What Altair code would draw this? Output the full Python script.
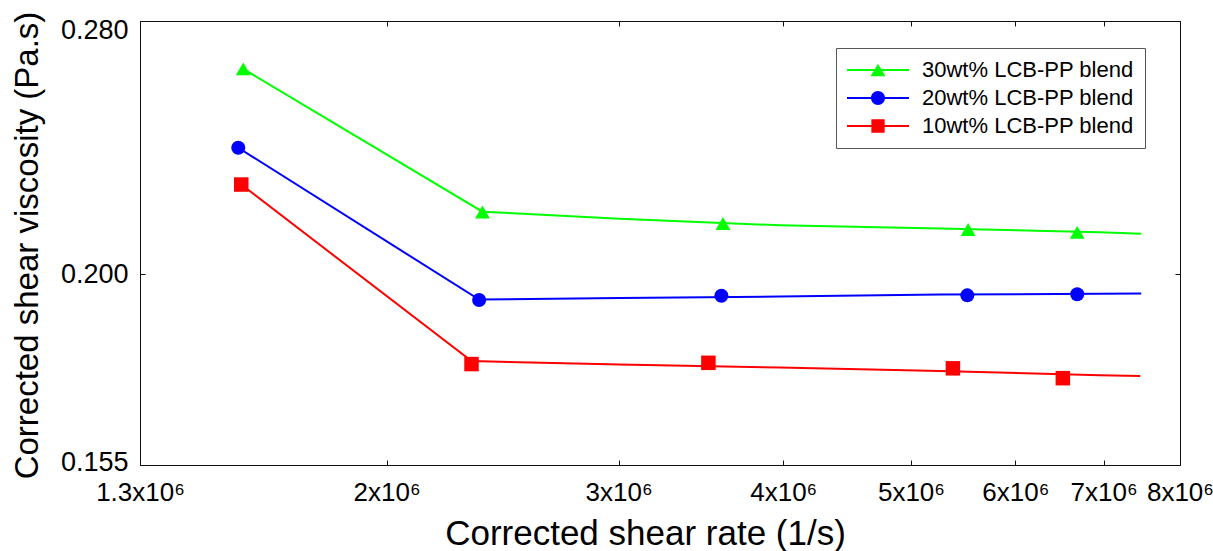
import altair as alt
import pandas as pd

FONT = "Liberation Sans"

series_names = ["30wt% LCB-PP blend", "20wt% LCB-PP blend", "10wt% LCB-PP blend"]
series_colors = ["#00ff00", "#0000ff", "#ff0000"]
marker_shapes = ["triangle-up", "circle", "square"]
marker_sizes = [220, 196, 210]

# measured points (markers)
marker_rate_30 = [1.557e6, 2.365e6, 3.600e6, 5.525e6, 6.685e6]
marker_visc_30 = [0.2627, 0.2171, 0.2138, 0.2121, 0.2113]
marker_rate_20 = [1.5435e6, 2.351e6, 3.590e6, 5.517e6, 6.685e6]
marker_visc_20 = [0.2365, 0.1931, 0.1942, 0.1943, 0.1946]
marker_rate_10 = [1.5516e6, 2.320e6, 3.5095e6, 5.380e6, 6.519e6]
marker_visc_10 = [0.2252, 0.1773, 0.1776, 0.1763, 0.1740]

# fitted curves (lines)
line_rate_30 = [1.557e6, 2.365e6, 3.006e6, 3.975e6, 5.257e6, 6.951e6, 7.476e6]
line_visc_30 = [0.2627, 0.2172, 0.2152, 0.2133, 0.2124, 0.2113, 0.2109]
line_rate_20 = [1.5435e6, 2.351e6, 3.006e6, 3.975e6, 5.257e6, 6.951e6, 7.476e6]
line_visc_20 = [0.2365, 0.1932, 0.1936, 0.1940, 0.1945, 0.1947, 0.1948]
line_rate_10 = [1.5516e6, 2.320e6, 3.006e6, 3.975e6, 5.257e6, 6.951e6, 7.463e6]
line_visc_10 = [0.2252, 0.1780, 0.1772, 0.1765, 0.1757, 0.1747, 0.1745]

x_tick_values = [1.3e6, 2e6, 3e6, 4e6, 5e6, 6e6, 7e6, 8e6]
y_tick_values = [0.155, 0.200, 0.280]
x_domain = [1.3e6, 8e6]
y_domain = [0.155, 0.280]

# legend symbols: line + marker (custom paths)
LINE_PATH = "M-4.43,-0.14L4.43,-0.14L4.43,0.14L-4.43,0.14Z"
legend_paths = [
    LINE_PATH + "M0,-0.89L1.07,0.89L-1.07,0.89Z",
    LINE_PATH + "M-1,0A1,1,0,1,1,1,0A1,1,0,1,1,-1,0Z",
    LINE_PATH + "M-0.95,-0.95L0.95,-0.95L0.95,0.95L-0.95,0.95Z",
]


def rows(name, xs, ys):
    return [{"series": name, "rate": x, "visc": y, "order": i}
            for i, (x, y) in enumerate(zip(xs, ys))]


markers_df = pd.DataFrame(
    rows(series_names[0], marker_rate_30, marker_visc_30)
    + rows(series_names[1], marker_rate_20, marker_visc_20)
    + rows(series_names[2], marker_rate_10, marker_visc_10)
)
lines_df = pd.DataFrame(
    rows(series_names[0], line_rate_30, line_visc_30)
    + rows(series_names[1], line_rate_20, line_visc_20)
    + rows(series_names[2], line_rate_10, line_visc_10)
)

xscale = alt.Scale(type="log", domain=x_domain, nice=False)
yscale = alt.Scale(type="log", domain=y_domain, nice=False)
cscale = alt.Scale(domain=series_names, range=series_colors)

x_main_axis = alt.Axis(
    values=x_tick_values,
    labelExpr="datum.value < 1.5e6 ? '1.3x10\u2076' : format(datum.value/1e6, 'd') + 'x10\u2076'",
    labelFlush=False,
    labelOverlap=False,
    labelFontSize=26,
    labelPadding=14,
    title="Corrected shear rate (1/s)",
    titleFontSize=35,
    titleX=505,
    titleY=84,
    titleBaseline="alphabetic",
    titleAnchor="start",
    titleAlign="center",
)
y_main_axis = alt.Axis(
    values=y_tick_values,
    format=".3f",
    labelFontSize=27,
    labelPadding=12,
    labelOverlap=False,
    labelOffset={"condition": [{"test": "datum.value > 0.27", "value": 9},
                               {"test": "datum.value < 0.16", "value": -3}],
                 "value": 1},
    title="Corrected shear viscosity (Pa.s)",
    titleFontSize=33,
    titleAngle=-90,
    titleX=-108,
    titleY=224,
    titleBaseline="alphabetic",
    titleAlign="center",
)

lines = alt.Chart(lines_df).mark_line(strokeWidth=2, opacity=1).encode(
    x=alt.X("rate:Q", scale=xscale, axis=x_main_axis),
    y=alt.Y("visc:Q", scale=yscale, axis=y_main_axis),
    color=alt.Color("series:N", scale=cscale, legend=None),
    order="order:Q",
)

point_layers = []
for name, col, shp, sz in zip(series_names, series_colors, marker_shapes, marker_sizes):
    point_layers.append(
        alt.Chart(markers_df).transform_filter(alt.datum.series == name)
        .mark_point(filled=True, shape=shp, size=sz, color=col, opacity=1, strokeWidth=0)
        .encode(
            x=alt.X("rate:Q", scale=xscale, axis=None),
            y=alt.Y("visc:Q", scale=yscale, axis=None),
        )
    )

legend_layer = alt.Chart(markers_df).transform_filter("false").mark_point(
    filled=True, opacity=1
).encode(
    x=alt.X("rate:Q", scale=xscale, axis=None),
    y=alt.Y("visc:Q", scale=yscale, axis=None),
    color=alt.Color("series:N", scale=cscale, legend=alt.Legend(
        title=None, orient="none", legendX=696, legendY=27, direction="vertical",
        symbolSize=196, symbolStrokeWidth=0, symbolOffset=20, labelOffset=33,
        labelFont=FONT, labelFontSize=22, labelColor="black", labelLimit=400,
        rowPadding=6, padding=11, strokeColor="#555555", fillColor="white",
    )),
    shape=alt.Shape("series:N", scale=alt.Scale(domain=series_names, range=legend_paths)),
)

mirror_layer = alt.Chart(markers_df).transform_filter("false").mark_point().encode(
    x=alt.X("rate:Q", scale=xscale, axis=alt.Axis(
        orient="top", values=x_tick_values, labels=False, title=None)),
    y=alt.Y("visc:Q", scale=yscale, axis=alt.Axis(
        orient="right", values=y_tick_values, labels=False, title=None)),
)

chart = alt.layer(lines, *point_layers, legend_layer, mirror_layer).resolve_scale(
    color="independent", shape="independent"
).resolve_axis(
    x="independent", y="independent"
).properties(
    width=1040,
    height=444,
    autosize=alt.AutoSizeParams(type="none"),
    padding={"left": 140, "top": 21, "right": 33, "bottom": 86},
    background="white",
).configure_view(
    stroke="#111111", strokeWidth=1
).configure_axis(
    grid=False,
    domain=False,
    offset=-5,
    tickSize=5,
    tickColor="#111111",
    tickWidth=1,
    labelFont=FONT,
    labelFontSize=25,
    labelColor="black",
    titleFont=FONT,
    titleFontSize=33,
    titleFontWeight="normal",
    titleColor="black",
)

chart.save("out.html", embed_options={"renderer": "svg", "actions": False})
